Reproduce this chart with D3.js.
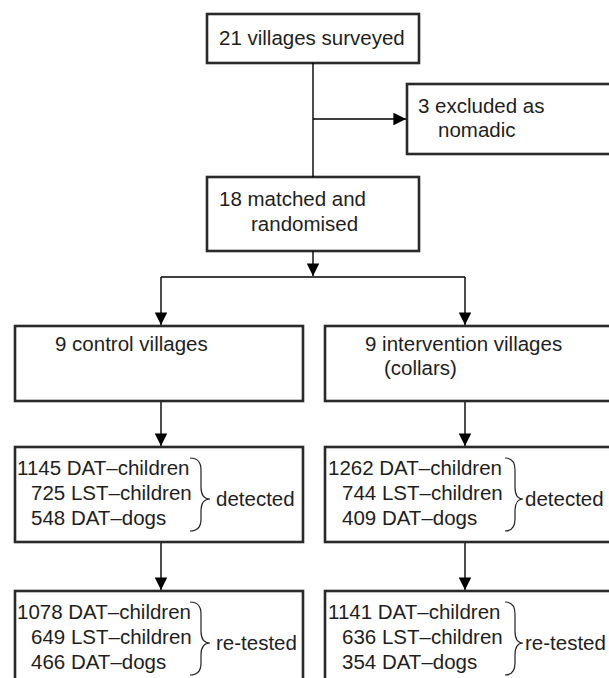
<!DOCTYPE html>
<html lang="en">
<head>
    <meta charset="UTF-8">
    <title>Village trial flow chart</title>
    <script src="https://d3js.org/d3.v7.min.js"></script>
    <style>
        body {
            margin: 0;
            background: #fff;
        }
        svg text {
            font-family: "Liberation Sans", Arial, sans-serif;
            font-size: 20.5px;
            fill: #1e1e1e;
        }
        .box {
            fill: none;
            stroke: #2a2a2a;
            stroke-width: 2.6;
        }
        .link {
            stroke: #000;
            stroke-width: 1.4;
            fill: none;
        }
        .brace {
            stroke: #222;
            stroke-width: 1.2;
            fill: none;
        }
    </style>
</head>
<body>
<svg width="609" height="678"></svg>

<script>
    // flow chart contents
    let surveyed = ["21 villages surveyed"];
    let excluded = ["3 excluded as", "nomadic"];
    let randomised = ["18 matched and", "randomised"];
    let arms = ["control", "intervention"];
    let armTitles = [["9 control villages"], ["9 intervention villages", "(collars)"]];
    let measures = ["DAT\u2013children", "LST\u2013children", "DAT\u2013dogs"];
    let detected = [[1145, 725, 548], [1262, 744, 409]];
    let retested = [[1078, 649, 466], [1141, 636, 354]];
    let outcomes = ["detected", "re-tested"];

    let svg = d3.select("svg");

    // arrow head
    svg.append("defs").append("marker")
        .attr("id", "head")
        .attr("viewBox", "0 0 10 10")
        .attr("refX", 10).attr("refY", 5)
        .attr("markerWidth", 9).attr("markerHeight", 9)
        .attr("markerUnits", "strokeWidth")
        .attr("orient", "auto")
        .append("path")
        .attr("d", "M0,0 L10,5 L0,10 Z")
        .attr("fill", "#000");

    // column scale for the two arms
    let xArm = d3.scaleBand()
        .domain(arms)
        .range([15, 613])
        .paddingInner(0.071);
    let midX = 313;
    let armLink = d3.scaleOrdinal().domain(arms).range([midX - 152, midX + 152]);

    // rows (top, height)
    let rows = {
        top: { y: 14, h: 49 },
        excl: { y: 84, h: 70 },
        rand: { y: 177, h: 74 },
        arm: { y: 326, h: 75 },
        det: { y: 447, h: 95 },
        ret: { y: 591, h: 92 }
    };
    let splitY = 277;
    let lineY = d3.scaleLinear().domain([0, 1]).range([28, 53]); // baseline offsets

    function box(x, y, w, h) {
        svg.append("rect").attr("class", "box")
            .attr("x", x).attr("y", y).attr("width", w).attr("height", h);
    }
    function link(pts, arrow) {
        let p = svg.append("path").attr("class", "link")
            .attr("d", d3.line()(pts));
        if (arrow) p.attr("marker-end", "url(#head)");
    }
    function label(x, y, txt) {
        svg.append("text").attr("x", x).attr("y", y).text(txt);
    }

    // top boxes
    box(207, rows.top.y, 212, rows.top.h);
    label(219, 45, surveyed[0]);

    box(407, rows.excl.y, 210, rows.excl.h);
    label(418, 113, excluded[0]);
    label(438, 137, excluded[1]);

    box(207, rows.rand.y, 212, rows.rand.h);
    label(219, 206, randomised[0]);
    label(251, 231, randomised[1]);

    // connectors
    link([[midX, rows.top.y + rows.top.h], [midX, rows.rand.y]], false);
    link([[midX, 119], [406, 119]], true);
    link([[midX, rows.rand.y + rows.rand.h], [midX, splitY - 1]], true);
    link([[armLink("control"), splitY], [armLink("intervention"), splitY]], false);

    arms.forEach(function (arm, i) {
        let x0 = xArm(arm);
        let bw = xArm.bandwidth();
        let lx = armLink(arm);

        // branch arrows
        link([[lx, splitY], [lx, rows.arm.y - 1]], true);
        link([[lx, rows.arm.y + rows.arm.h], [lx, rows.det.y - 1]], true);
        link([[lx, rows.det.y + rows.det.h], [lx, rows.ret.y - 1]], true);

        // arm box
        box(x0, rows.arm.y, bw, rows.arm.h);
        armTitles[i].forEach(function (t, j) {
            label(x0 + (j === 0 ? 40 : 59), rows.arm.y + 25 + j * 24, t);
        });

        // count boxes with brace and outcome
        let braceX = i === 0 ? { x0: 190, xv: 201, tip: 210, lab: 216 }
                             : { x0: 505, xv: 515, tip: 523, lab: 525 };
        [[rows.det, detected[i], outcomes[0]], [rows.ret, retested[i], outcomes[1]]]
            .forEach(function (r) {
                let row = r[0], vals = r[1];
                box(x0, row.y, bw, row.h);
                vals.forEach(function (v, k) {
                    let digits = String(v).length;
                    label(x0 + (i === 0 ? 2 : 3) + (4 - digits) * 14,
                          row.y + lineY(k), v + " " + measures[k]);
                });
                let y1 = row.y + 11, y2 = row.y + 84, ym = row.y + 52;
                let c = 6;
                let d = "M" + braceX.x0 + "," + y1 +
                    " Q" + braceX.xv + "," + y1 + " " + braceX.xv + "," + (y1 + c * 2) +
                    " L" + braceX.xv + "," + (ym - c * 2) +
                    " Q" + braceX.xv + "," + ym + " " + braceX.tip + "," + ym +
                    " Q" + braceX.xv + "," + ym + " " + braceX.xv + "," + (ym + c * 2) +
                    " L" + braceX.xv + "," + (y2 - c * 2) +
                    " Q" + braceX.xv + "," + y2 + " " + braceX.x0 + "," + y2;
                svg.append("path").attr("class", "brace").attr("d", d);
                label(braceX.lab, ym + 7, r[2]);
            });
    });
</script>
</body>
</html>
